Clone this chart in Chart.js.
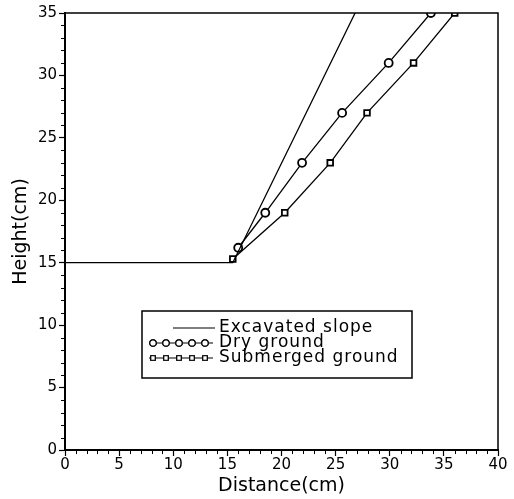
<!DOCTYPE html>
<html>
<head>
<meta charset="utf-8">
<script src="https://cdn.jsdelivr.net/npm/chart.js@4/dist/chart.umd.min.js"></script>
<style>
    body { margin: 0; background: #fff; }
    #chart-wrap { width: 514px; height: 499px; }
</style>
</head>
<body>
<div id="chart-wrap"><canvas id="slope-chart" width="514" height="499"></canvas></div>
<script>
// values (cm)
const slopeX = [0, 15.5, 26.8];
const slopeY = [15, 15, 35];
const dryX = [16.0, 18.5, 21.9, 25.6, 29.9, 33.8];
const dryY = [16.2, 19, 23, 27, 31, 35];
const submergedX = [15.5, 20.3, 24.5, 27.9, 32.2, 36.0];
const submergedY = [15.3, 19, 23, 27, 31, 35];
const seriesNames = ["Excavated slope", "Dry ground", "Submerged ground"];

const FONT = "'DejaVu Sans', sans-serif";

function toPoints(xs, ys) {
    return xs.map((x, i) => ({ x: x, y: ys[i] }));
}

// top and right frame lines + minor ticks
const framePlugin = {
    id: "frame",
    afterDraw(chart) {
        const ctx = chart.ctx;
        const a = chart.chartArea;
        ctx.save();
        ctx.strokeStyle = "#000";
        ctx.lineWidth = 1.5;
        ctx.beginPath();
        ctx.moveTo(a.left, a.top);
        ctx.lineTo(a.right, a.top);
        ctx.lineTo(a.right, a.bottom);
        ctx.stroke();

        ctx.lineWidth = 1;
        const xs = chart.scales.x;
        const ys = chart.scales.y;
        ctx.beginPath();
        for (let v = xs.min; v <= xs.max; v++) {
            if (v % 5 === 0) continue;
            const px = Math.round(xs.getPixelForValue(v)) + 0.5;
            ctx.moveTo(px, a.bottom);
            ctx.lineTo(px, a.bottom + 4);
        }
        for (let v = ys.min; v <= ys.max; v++) {
            if (v % 5 === 0) continue;
            const py = Math.round(ys.getPixelForValue(v)) + 0.5;
            ctx.moveTo(a.left, py);
            ctx.lineTo(a.left - 4, py);
        }
        ctx.stroke();
        ctx.restore();
    },
};

// boxed legend inside the plot
const boxLegendPlugin = {
    id: "boxLegend",
    afterDraw(chart) {
        const ctx = chart.ctx;
        const box = { left: 142, top: 311, right: 412, bottom: 378 };
        ctx.save();
        ctx.strokeStyle = "#000";
        ctx.lineWidth = 1.5;
        ctx.fillStyle = "#fff";
        ctx.fillRect(box.left, box.top, box.right - box.left, box.bottom - box.top);
        ctx.strokeRect(box.left, box.top, box.right - box.left, box.bottom - box.top);

        const rowY = [328, 343, 358];
        ctx.font = "17px " + FONT;
        ctx.letterSpacing = "1px";
        ctx.textBaseline = "middle";
        ctx.textAlign = "left";
        chart.data.datasets.forEach((ds, i) => {
            const y = rowY[i];
            ctx.strokeStyle = "#000";
            ctx.lineWidth = 1.2;
            ctx.beginPath();
            if (ds.pointRadius === 0) {
                ctx.moveTo(173, y);
                ctx.lineTo(215, y);
                ctx.stroke();
            } else {
                ctx.moveTo(149, y);
                ctx.lineTo(213, y);
                ctx.stroke();
                for (let k = 0; k < 5; k++) {
                    Chart.helpers.drawPoint(ctx, {
                        pointStyle: ds.pointStyle,
                        radius: 3.2,
                        borderWidth: 1.5,
                    }, 153 + k * 13, y);
                    ctx.fillStyle = "#fff";
                    ctx.fill();
                    ctx.stroke();
                }
            }
            ctx.fillStyle = "#000";
            ctx.fillText(ds.label, 219, y);
        });
        ctx.restore();
    },
};

const ctx = document.getElementById("slope-chart").getContext("2d");
const slopeChart = new Chart(ctx, {
    type: "scatter",
    data: {
        datasets: [
            {
                label: seriesNames[0],
                data: toPoints(slopeX, slopeY),
                showLine: true,
                borderColor: "#000",
                borderWidth: 1.3,
                pointRadius: 0,
            },
            {
                label: seriesNames[1],
                data: toPoints(dryX, dryY),
                showLine: true,
                borderColor: "#000",
                borderWidth: 1.3,
                pointStyle: "circle",
                pointRadius: 4,
                pointBorderWidth: 1.8,
                pointBackgroundColor: "#fff",
                pointBorderColor: "#000",
            },
            {
                label: seriesNames[2],
                data: toPoints(submergedX, submergedY),
                showLine: true,
                borderColor: "#000",
                borderWidth: 1.3,
                pointStyle: "rect",
                pointRadius: 4,
                pointBorderWidth: 1.8,
                pointBackgroundColor: "#fff",
                pointBorderColor: "#000",
            },
        ],
    },
    options: {
        responsive: false,
        animation: false,
        devicePixelRatio: 1,
        layout: { padding: { top: 13, right: 16, left: 0, bottom: 0 } },
        plugins: {
            legend: { display: false },
            tooltip: { enabled: false },
        },
        scales: {
            x: {
                type: "linear",
                min: 0,
                max: 40,
                ticks: {
                    stepSize: 5,
                    color: "#000",
                    font: { family: FONT, size: 15 },
                    padding: 0,
                    maxRotation: 0,
                },
                grid: { drawOnChartArea: false, tickLength: 6, tickColor: "#000", tickWidth: 1.2 },
                border: { color: "#000", width: 2 },
                title: {
                    display: true,
                    text: "Distance(cm)",
                    color: "#000",
                    font: { family: FONT, size: 19 },
                    padding: { top: 0, bottom: 2 },
                },
                afterFit: (scale) => {
                    scale.height = 49;
                },
            },
            y: {
                type: "linear",
                min: 0,
                max: 35,
                ticks: {
                    stepSize: 5,
                    color: "#000",
                    font: { family: FONT, size: 15 },
                    padding: 2,
                },
                grid: { drawOnChartArea: false, tickLength: 6, tickColor: "#000", tickWidth: 1.2 },
                border: { color: "#000", width: 2 },
                title: {
                    display: true,
                    text: "Height(cm)",
                    color: "#000",
                    font: { family: FONT, size: 19 },
                    padding: { top: 10, bottom: 0 },
                },
                afterFit: (scale) => {
                    scale.width = 65;
                },
            },
        },
    },
    plugins: [framePlugin, boxLegendPlugin],
});
</script>
</body>
</html>
